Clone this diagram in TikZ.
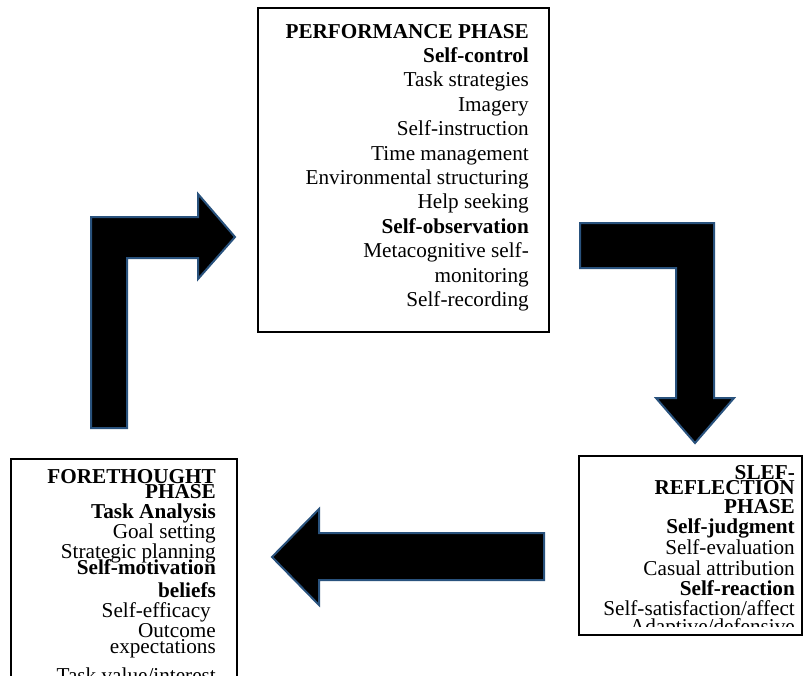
\documentclass[tikz,border=0pt]{standalone}
\usepackage{fontspec}
\setmainfont{Liberation Serif}
\definecolor{arrowblue}{RGB}{41,82,125}
\tikzset{
  boxframe/.style={draw=black, line width=1.6pt},
  ln/.style={anchor=base east, inner sep=0pt, font=\fontsize{21.2}{24}\selectfont},
  bl/.style={anchor=base east, inner sep=0pt, font=\fontsize{21.2}{24}\selectfont\bfseries},
  blockarrow/.style={fill=black, draw=arrowblue, line width=2pt, line join=miter}
}
\begin{document}
\begin{tikzpicture}[x=1pt,y=-1pt]
\clip (0,0) rectangle (803,675);
\fill[white] (0,0) rectangle (803,675);

% ---------- boxes ----------
\draw[boxframe] (258,8) rectangle (549,332);
\draw[boxframe] (11,459) rectangle (237,720);
\draw[boxframe] (579,456) rectangle (802,635);

% ---------- block arrows ----------
\draw[blockarrow] (91,428) -- (91,217) -- (198,217) -- (198,194) -- (235,237)
  -- (198,279) -- (198,258) -- (127,258) -- (127,428) -- cycle;
\draw[blockarrow] (580,223) -- (714,223) -- (714,398) -- (734,398) -- (695,443)
  -- (656,398) -- (676,398) -- (676,268) -- (580,268) -- cycle;
\draw[blockarrow] (544,533) -- (544,580) -- (319,580) -- (319,605) -- (272,557)
  -- (319,509) -- (319,533) -- cycle;

% ---------- performance phase ----------
\node[bl] (p1) at (529,38.0) {PERFORMANCE PHASE};
\node[bl] (p2) at (529,62.4) {Self-control};
\node[ln] (p3) at (529,86.8) {Task strategies};
\node[ln] (p4) at (529,111.2) {Imagery};
\node[ln] (p5) at (529,135.6) {Self-instruction};
\node[ln] (p6) at (529,160.0) {Time management};
\node[ln] (p7) at (529,184.4) {Environmental structuring};
\node[ln] (p8) at (529,208.8) {Help seeking};
\node[bl] (p9) at (529,233.2) {Self-observation};
\node[ln] (p10) at (529,257.6) {Metacognitive self-};
\node[ln] (p11) at (529,282.0) {monitoring};
\node[ln] (p12) at (529,306.4) {Self-recording};

% ---------- forethought phase ----------
\node[bl] (f1) at (216,483) {FORETHOUGHT};
\node[bl] (f2) at (216,498) {PHASE};
\node[bl] (f3) at (216,518) {Task Analysis};
\node[ln] (f4) at (216,538) {Goal setting};
\node[ln] (f5) at (216,558) {Strategic planning};
\node[bl] (f6) at (216,574) {Self-motivation};
\node[bl] (f7) at (216,597) {beliefs};
\node[ln] (f8) at (211,617) {Self-efficacy};
\node[ln] (f9) at (216,637) {Outcome};
\node[ln] (f10) at (216,653) {expectations};
\node[ln] (f11) at (216,682) {Task value/interest};

% ---------- self-reflection phase ----------
\begin{scope}
\clip (579,456) rectangle (803,626);
\node[bl] (s1) at (795,479) {SLEF-};
\node[bl] (s2) at (795,494) {REFLECTION};
\node[bl] (s3) at (795,513) {PHASE};
\node[bl] (s4) at (795,533) {Self-judgment};
\node[ln] (s5) at (795,554) {Self-evaluation};
\node[ln] (s6) at (795,575) {Casual attribution};
\node[bl] (s7) at (795,595) {Self-reaction};
\node[ln] (s8) at (795,615) {Self-satisfaction/affect};
\node[ln] (s9) at (795,633) {Adaptive/defensive};
\end{scope}
\end{tikzpicture}
\end{document}
